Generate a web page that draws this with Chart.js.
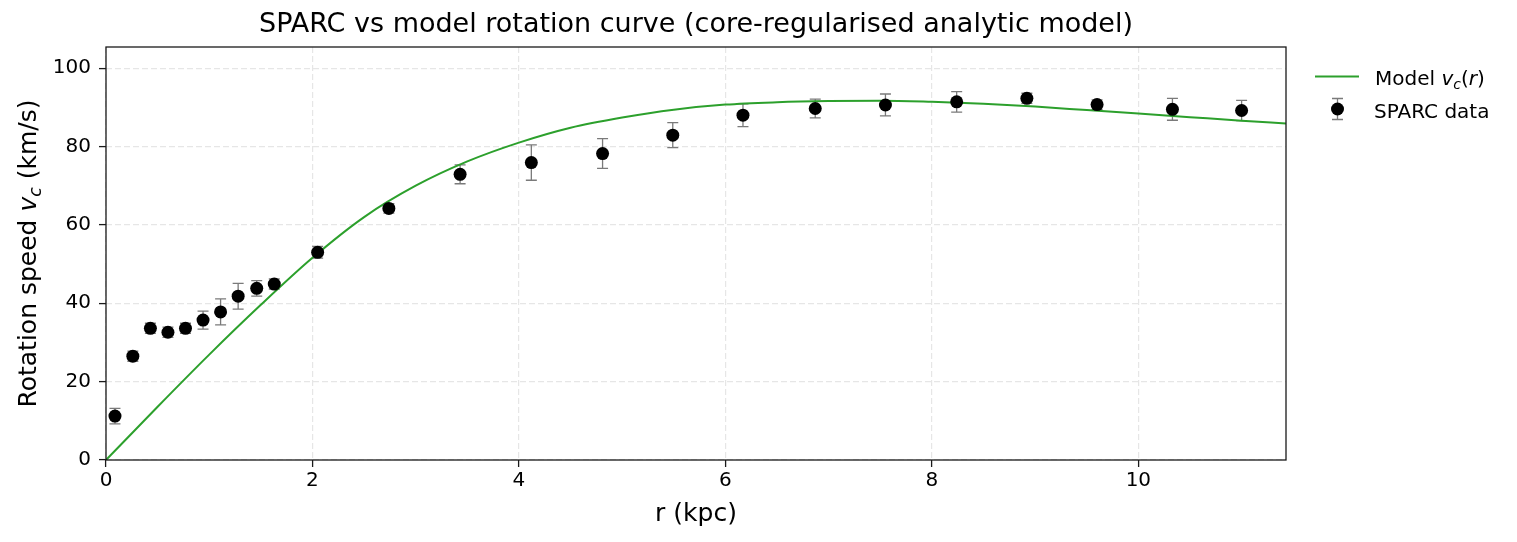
<!DOCTYPE html>
<html>
<head>
<meta charset="utf-8">
<script src="https://cdn.jsdelivr.net/npm/chart.js@4.4.1/dist/chart.umd.min.js"></script>
<style>
  html, body { margin: 0; padding: 0; background: #ffffff; }
  #wrap { width: 1517px; height: 542px; }
</style>
</head>
<body>
<div id="wrap"><canvas id="c" width="1517" height="542"></canvas></div>
<script>
// ---- data ----
const rData = [0.087, 0.26, 0.43, 0.60, 0.77, 0.94, 1.11, 1.28, 1.46, 1.63, 2.05, 2.74, 3.43, 4.12, 4.81, 5.49, 6.17, 6.87, 7.55, 8.24, 8.92, 9.60, 10.33, 11.00];
const vData = [11.2, 26.5, 33.6, 32.6, 33.6, 35.7, 37.8, 41.8, 43.8, 44.9, 53.0, 64.2, 72.9, 75.9, 78.2, 82.9, 88.0, 89.7, 90.6, 91.4, 92.3, 90.7, 89.5, 89.2];
const eData = [2.0, 1.3, 1.3, 1.3, 1.3, 2.3, 3.3, 3.3, 2.0, 1.3, 1.5, 1.2, 2.4, 4.5, 3.8, 3.2, 2.9, 2.4, 2.8, 2.6, 1.3, 1.2, 2.8, 2.6];

const rModel = [0, 0.5, 1, 1.5, 2, 2.5, 3, 3.5, 4, 4.5, 5, 5.5, 6, 6.5, 7, 7.5, 8, 8.5, 9, 9.5, 10, 10.5, 11, 11.43];
const vModel = [0, 13.6, 26.9, 39.6, 51.6, 62.0, 70.0, 76.2, 81.0, 84.8, 87.4, 89.4, 90.7, 91.3, 91.6, 91.7, 91.4, 90.9, 90.2, 89.3, 88.4, 87.5, 86.6, 85.9];

const xTicks = [0, 2, 4, 6, 8, 10];
const yTicks = [0, 20, 40, 60, 80, 100];
const xMax = 11.43;
const yMax = 105.4;

const FONT = '"DejaVu Sans", "Liberation Sans", sans-serif';
Chart.defaults.font.family = FONT;

function drawRich(ctx, parts, x, y) {
  let cx = x;
  for (const p of parts) {
    ctx.font = p.f;
    ctx.fillText(p.t, cx, y + (p.dy || 0));
    cx += ctx.measureText(p.t).width;
  }
  return cx - x;
}
function richWidth(ctx, parts) {
  let w = 0;
  for (const p of parts) { ctx.font = p.f; w += ctx.measureText(p.t).width; }
  return w;
}

const errorBars = {
  id: 'errorBars',
  beforeDatasetsDraw(chart) {
    const { ctx, scales: { x, y } } = chart;
    ctx.save();
    ctx.strokeStyle = '#7a7a7a';
    ctx.lineWidth = 1.3;
    ctx.beginPath();
    for (let i = 0; i < rData.length; i++) {
      const px = x.getPixelForValue(rData[i]);
      const y1 = y.getPixelForValue(vData[i] - eData[i]);
      const y2 = y.getPixelForValue(vData[i] + eData[i]);
      ctx.moveTo(px, y1); ctx.lineTo(px, y2);
      ctx.moveTo(px - 5.5, y1); ctx.lineTo(px + 5.5, y1);
      ctx.moveTo(px - 5.5, y2); ctx.lineTo(px + 5.5, y2);
    }
    ctx.stroke();
    ctx.restore();
  }
};

const decor = {
  id: 'decor',
  afterDraw(chart) {
    const { ctx, chartArea: a } = chart;
    ctx.save();
    // frame
    ctx.strokeStyle = '#1a1a1a';
    ctx.lineWidth = 1.3;
    ctx.strokeRect(a.left, a.top, a.right - a.left, a.bottom - a.top);

    ctx.fillStyle = '#000';
    ctx.textBaseline = 'alphabetic';
    ctx.textAlign = 'left';

    // y axis title with italic v and subscript c
    const yParts = [
      { t: 'Rotation speed ', f: '25px ' + FONT },
      { t: 'v', f: 'italic 25px ' + FONT },
      { t: 'c', f: 'italic 17.5px ' + FONT, dy: 5 },
      { t: ' (km/s)', f: '25px ' + FONT }
    ];
    ctx.save();
    ctx.translate(35.5, (a.top + a.bottom) / 2);
    ctx.rotate(-Math.PI / 2);
    const w = richWidth(ctx, yParts);
    drawRich(ctx, yParts, -w / 2, 0);
    ctx.restore();

    // legend
    const lx = 1315, tx = 1375;
    ctx.strokeStyle = '#2ca02c';
    ctx.lineWidth = 2;
    ctx.beginPath(); ctx.moveTo(lx, 76.5); ctx.lineTo(lx + 44, 76.5); ctx.stroke();
    drawRich(ctx, [
      { t: 'Model ', f: '20px ' + FONT },
      { t: 'v', f: 'italic 20px ' + FONT },
      { t: 'c', f: 'italic 14px ' + FONT, dy: 4 },
      { t: '(', f: '20px ' + FONT },
      { t: 'r', f: 'italic 20px ' + FONT },
      { t: ')', f: '20px ' + FONT }
    ], tx, 85);

    const mx = 1337.5, my = 109;
    ctx.strokeStyle = '#7a7a7a';
    ctx.lineWidth = 1.3;
    ctx.beginPath();
    ctx.moveTo(mx, my - 10.5); ctx.lineTo(mx, my + 10.5);
    ctx.moveTo(mx - 5.5, my - 10.5); ctx.lineTo(mx + 5.5, my - 10.5);
    ctx.moveTo(mx - 5.5, my + 10.5); ctx.lineTo(mx + 5.5, my + 10.5);
    ctx.stroke();
    ctx.fillStyle = '#000';
    ctx.beginPath(); ctx.arc(mx, my, 6.5, 0, Math.PI * 2); ctx.fill();
    ctx.font = '20px ' + FONT;
    ctx.fillText('SPARC data', tx - 1, 118);
    ctx.restore();
  }
};

const gridCommon = {
  color: '#e6e6e6',
  lineWidth: 1.2,
  drawTicks: true,
  tickLength: 7,
  tickColor: '#1a1a1a',
  tickWidth: 1.3
};

new Chart(document.getElementById('c').getContext('2d'), {
  type: 'scatter',
  data: {
    datasets: [
      {
        label: 'SPARC data',
        data: rData.map((r, i) => ({ x: r, y: vData[i] })),
        pointRadius: 6.5,
        pointHoverRadius: 6.5,
        pointBackgroundColor: '#000',
        pointBorderColor: '#000',
        pointBorderWidth: 0,
        showLine: false,
        order: 0
      },
      {
        label: 'Model v_c(r)',
        data: rModel.map((r, i) => ({ x: r, y: vModel[i] })),
        showLine: true,
        borderColor: '#2ca02c',
        backgroundColor: '#2ca02c',
        borderWidth: 2,
        pointRadius: 0,
        pointHoverRadius: 0,
        fill: false,
        cubicInterpolationMode: 'monotone',
        order: 1
      }
    ]
  },
  options: {
    responsive: false,
    animation: false,
    devicePixelRatio: 1,
    events: [],
    layout: { padding: { left: 0, right: 231, top: 0, bottom: 0 } },
    plugins: {
      legend: { display: false },
      tooltip: { enabled: false },
      title: {
        display: true,
        text: 'SPARC vs model rotation curve (core-regularised analytic model)',
        fullSize: false,
        color: '#000',
        font: { family: FONT, size: 27, weight: 'normal', lineHeight: 1.2 },
        padding: { top: 9.2, bottom: 5.4 }
      }
    },
    scales: {
      x: {
        type: 'linear',
        min: 0,
        max: xMax,
        afterBuildTicks: s => { s.ticks = xTicks.map(v => ({ value: v })); },
        afterFit: s => { s.height = 82; },
        ticks: { color: '#000', font: { family: FONT, size: 20 }, padding: 2, autoSkip: false, maxRotation: 0, callback: v => String(v) },
        grid: gridCommon,
        border: { display: false, dash: [6, 3] },
        title: { display: true, text: 'r (kpc)', color: '#000', font: { family: FONT, size: 25, lineHeight: 1.2 }, padding: { top: 0, bottom: 13 } }
      },
      y: {
        type: 'linear',
        min: 0,
        max: yMax,
        afterBuildTicks: s => { s.ticks = yTicks.map(v => ({ value: v })); },
        afterFit: s => { s.width = 106; },
        ticks: { color: '#000', font: { family: FONT, size: 20 }, padding: 8, autoSkip: false, callback: v => String(v) },
        grid: gridCommon,
        border: { display: false, dash: [6, 3] },
        title: { display: false }
      }
    }
  },
  plugins: [errorBars, decor]
});
</script>
</body>
</html>
